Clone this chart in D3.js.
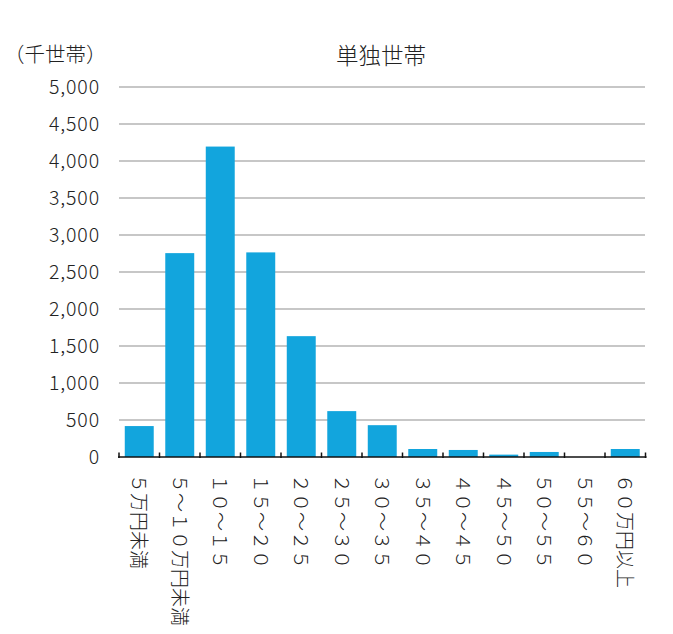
<!DOCTYPE html>
<html>
<head>
<meta charset="utf-8">
<script src="https://cdn.jsdelivr.net/npm/d3@7/dist/d3.min.js"></script>
<style>
  html, body { margin: 0; padding: 0; background: #fff; }
  svg { display: block; font-family: "Noto Sans CJK JP", "Noto Sans", sans-serif; font-weight: 300; }
</style>
</head>
<body>
<svg id="chart" width="673" height="634"></svg>
<script>
const categories = ["５万円未満", "５～１０万円未満", "１０～１５", "１５～２０", "２０～２５", "２５～３０", "３０～３５", "３５～４０", "４０～４５", "４５～５０", "５０～５５", "５５～６０", "６０万円以上"];
const values = [418, 2755, 4195, 2765, 1633, 620, 430, 108, 95, 32, 68, 0, 108];
const yTicks = [0, 500, 1000, 1500, 2000, 2500, 3000, 3500, 4000, 4500, 5000];
const title = "単独世帯";
const unitLabel = "（千世帯）";

const svg = d3.select("#chart");
const mLeft = 119, mRight = 645.5, mTop = 87, mBottom = 457;

const x = d3.scaleBand().domain(categories).range([mLeft, mRight]).paddingInner(0.285).paddingOuter(0.1425);
const y = d3.scaleLinear().domain([0, 5000]).range([mBottom, mTop]);
const fmt = d3.format(",");

// gridlines
svg.append("g").selectAll("line").data(yTicks.filter(d => d > 0)).join("line")
  .attr("x1", mLeft).attr("x2", mRight - 0.5)
  .attr("y1", d => y(d)).attr("y2", d => y(d))
  .attr("stroke", "#b5b5b5").attr("stroke-width", 1.5);

// y tick labels
svg.append("g").selectAll("text").data(yTicks).join("text")
  .attr("x", 100).attr("y", d => y(d)).attr("dy", "0.36em")
  .attr("text-anchor", "end").attr("font-size", 19.5).attr("letter-spacing", 0.9).attr("fill", "#222")
  .text(d => fmt(d));

// bars
svg.append("g").selectAll("rect").data(values).join("rect")
  .attr("x", (d, i) => x(categories[i]))
  .attr("width", x.bandwidth())
  .attr("y", d => y(d))
  .attr("height", d => y(0) - y(d))
  .attr("fill", "#12a5dd");

// x axis line
svg.append("line").attr("x1", mLeft - 1).attr("x2", mRight + 1)
  .attr("y1", mBottom).attr("y2", mBottom)
  .attr("stroke", "#111").attr("stroke-width", 1.5);

// ticks at category boundaries
const step = x.step();
const bounds = categories.map(c => x(c) - step * x.paddingInner() / 2).concat([mRight]);
svg.append("g").selectAll("line").data(bounds).join("line")
  .attr("x1", d => d).attr("x2", d => d)
  .attr("y1", mBottom - 4.5).attr("y2", mBottom + 1)
  .attr("stroke", "#111").attr("stroke-width", 1.5);

// category labels rotated
svg.append("g").selectAll("text").data(categories).join("text")
  .attr("transform", d => `translate(${x(d) + x.bandwidth() / 2},474) rotate(90)`)
  .attr("dy", "0.36em")
  .attr("font-size", 19).attr("fill", "#222")
  .text(d => d);

// title
svg.append("text").attr("x", 381).attr("y", 64).attr("text-anchor", "middle")
  .attr("font-size", 22.5).attr("fill", "#222").text(title);

// unit label
svg.append("text").attr("x", 4).attr("y", 62).attr("text-anchor", "start")
  .attr("font-size", 20.5).attr("fill", "#222").text(unitLabel);
</script>
</body>
</html>
